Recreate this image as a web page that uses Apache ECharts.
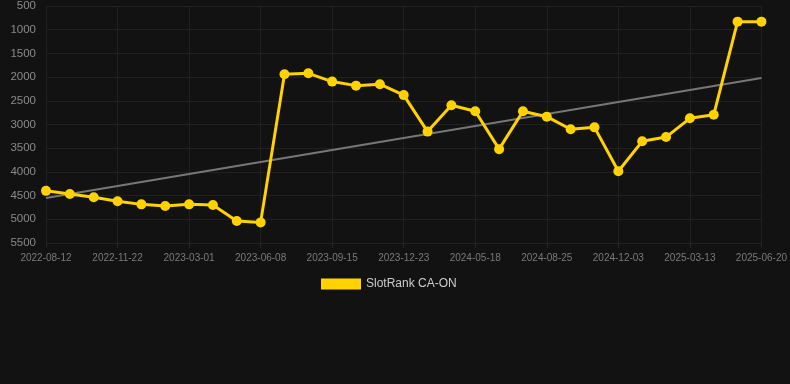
<!DOCTYPE html>
<html>
<head>
<meta charset="utf-8">
<script src="https://cdn.jsdelivr.net/npm/echarts@6/dist/echarts.min.js"></script>
<style>
html,body{margin:0;padding:0;background:#121212;}
#c{width:790px;height:384px;}
</style>
</head>
<body>
<div id="c"></div>
<script>
const dates = ["2022-08-12","2022-09-15","2022-10-19","2022-11-22","2022-12-26","2023-01-28","2023-03-01","2023-04-03","2023-05-06","2023-06-08","2023-07-11","2023-08-13","2023-09-15","2023-10-18","2023-11-20","2023-12-23","2024-02-10","2024-03-30","2024-05-18","2024-06-20","2024-07-23","2024-08-25","2024-09-27","2024-10-31","2024-12-03","2025-01-05","2025-02-08","2025-03-13","2025-04-15","2025-05-18","2025-06-20"];
const rankValues = [4400,4465,4535,4620,4685,4720,4685,4700,5035,5065,1940,1920,2095,2180,2150,2380,3150,2595,2720,3520,2720,2835,3100,3060,3985,3355,3265,2870,2795,830,830];
const trendValues = [4550,null,null,null,null,null,null,null,null,null,null,null,null,null,null,null,null,null,null,null,null,null,null,null,null,null,null,null,null,null,2020];
const yTicks = {min:500, max:5500, interval:500};
const seriesName = "SlotRank CA-ON";

const chart = echarts.init(document.getElementById('c'));
chart.setOption({
  backgroundColor:'#121212',
  animation:false,
  grid:{left:46,right:28,top:6,bottom:141},
  legend:{
    data:[{name:seriesName,icon:'rect'}],
    bottom:89, left:316,
    itemWidth:40,itemHeight:11,itemGap:10,
    textStyle:{color:'#cccccc',fontSize:12,fontFamily:'Liberation Sans, Arial, sans-serif'}
  },
  xAxis:{
    type:'category',
    data:dates,
    boundaryGap:false,
    axisLine:{show:false},
    axisTick:{show:true,interval:2,length:5,lineStyle:{color:'#262626'}},
    axisLabel:{interval:2,color:'#7a7a7a',fontSize:10,margin:10,fontFamily:'Liberation Sans, Arial, sans-serif'},
    splitLine:{show:true,interval:2,lineStyle:{color:'#202020',width:1}}
  },
  yAxis:{
    type:'value',
    inverse:true,
    min:yTicks.min,max:yTicks.max,interval:yTicks.interval,
    axisLine:{show:false},
    axisTick:{show:false},
    axisLabel:{color:'#8a8a8a',fontSize:11.5,margin:10,fontFamily:'Liberation Sans, Arial, sans-serif',formatter:function(v){return String(v);}},
    splitLine:{show:true,lineStyle:{color:'#202020',width:1}}
  },
  series:[
    {
      name:'trend',
      type:'line',
      data:trendValues,
      connectNulls:true,
      showSymbol:false,
      symbol:'none',
      lineStyle:{color:'#777777',width:2},
      silent:true,
      z:1
    },
    {
      name:seriesName,
      type:'line',
      data:rankValues,
      symbol:'circle',
      symbolSize:10,
      itemStyle:{color:'#FFD200'},
      lineStyle:{color:'#FFD200',width:3},
      z:2
    }
  ]
});
</script>
</body>
</html>
